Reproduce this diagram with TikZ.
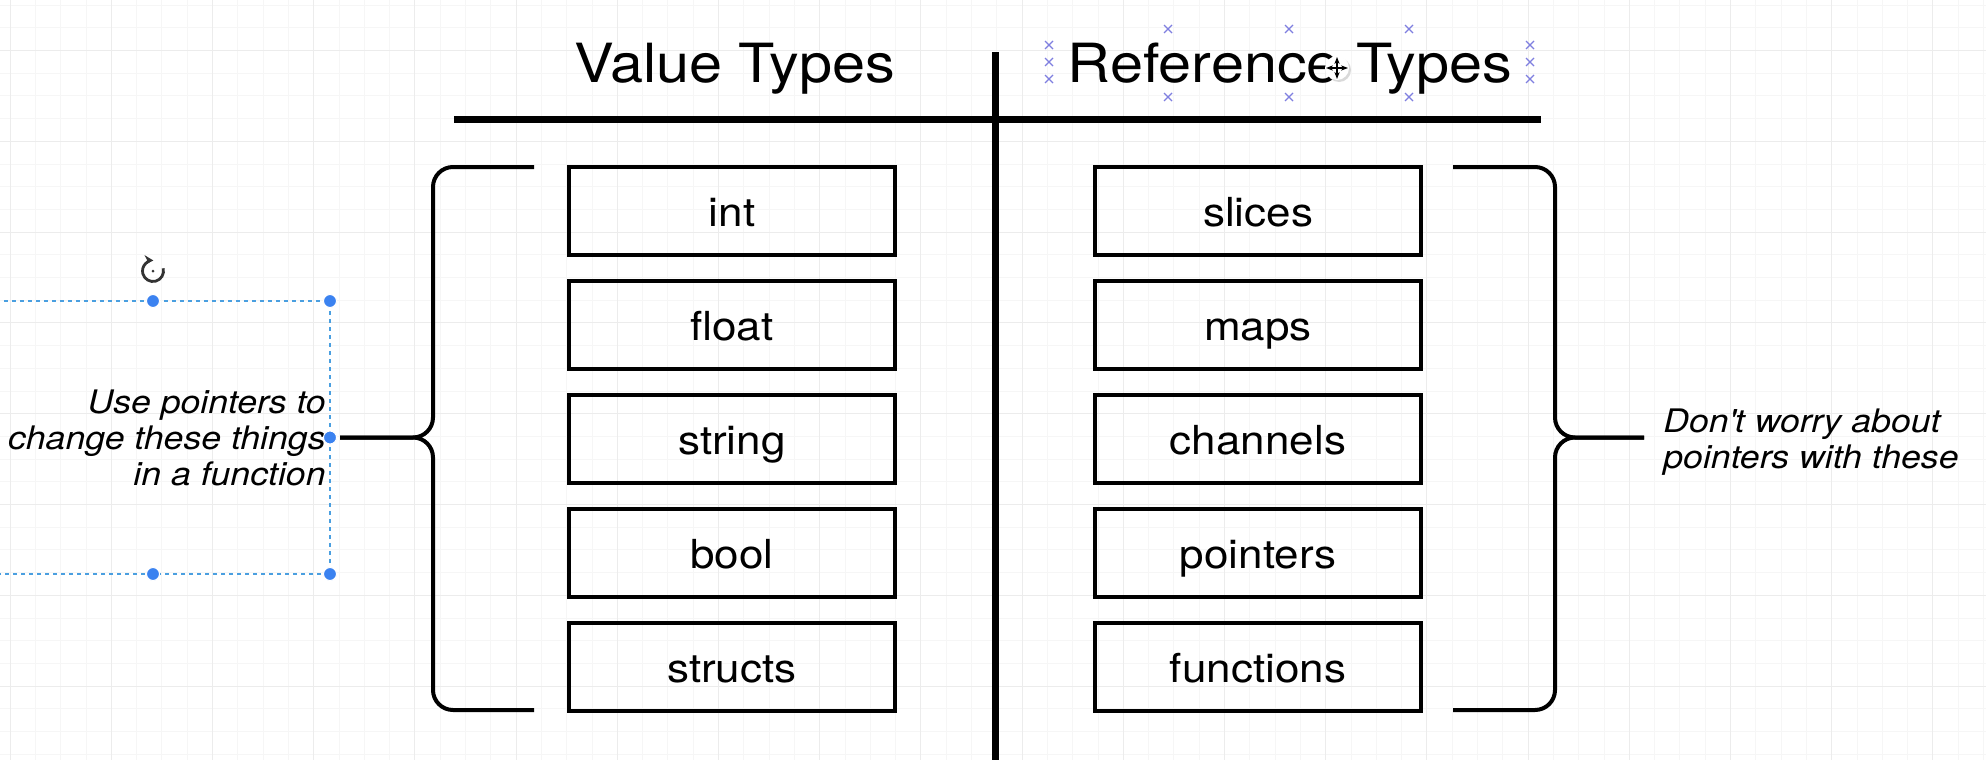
\documentclass[tikz,border=0pt]{standalone}
\usepackage{fontspec}
\setmainfont{TeX Gyre Heros}[FakeStretch=1.1]
\usetikzlibrary{arrows.meta,calc}

\definecolor{gridA}{HTML}{ECECEC}
\definecolor{gridB}{HTML}{F6F6F6}
\definecolor{selblue}{HTML}{4A9FE0}
\definecolor{handleblue}{HTML}{3B82F0}
\definecolor{xblue}{HTML}{7F7FE0}

\begin{document}
\begin{tikzpicture}[
      x=0.5pt,
      y=-0.5pt,
      gridmajor/.style={draw=gridA, line width=0.5pt},
      gridminor/.style={draw=gridB, line width=0.4pt},
      typebox/.style={draw, line width=2pt, minimum width=163pt, minimum height=44pt,
                      inner sep=0pt, text height=16pt, text depth=0pt,
                      font=\fontsize{20}{24}\selectfont},
      title/.style={anchor=base, inner sep=0pt, font=\fontsize{27}{32}\selectfont},
      note/.style={inner sep=0pt, font=\itshape\fontsize{16.2}{18}\selectfont},
      bar/.style={line width=3.5pt},
      brace/.style={line width=2pt, rounded corners=10pt},
      selbox/.style={draw=selblue, line width=0.6pt, dash pattern=on 2pt off 2pt},
      handle/.style={circle, fill=handleblue, draw=white, line width=0.5pt,
                     minimum size=6.5pt, inner sep=0pt},
      xmk/.style={draw=xblue, line width=0.6pt}]

    \fill[white] (0,0) rectangle (1986,760);
    \useasboundingbox (0,0) rectangle (1986,760);

    % canvas grid
    \foreach \i in {0,...,78}
      \draw[gridminor] ({10+25.3*\i},0) -- ({10+25.3*\i},760);
    \foreach \j in {0,...,33}
      \draw[gridminor] (0,{5+22.7*\j}) -- (1986,{5+22.7*\j});
    \foreach \i in {0,...,19}
      \draw[gridmajor] ({10+101.2*\i},0) -- ({10+101.2*\i},760);
    \foreach \j in {0,...,7}
      \draw[gridmajor] (0,{50.4+90.8*\j}) -- (1986,{50.4+90.8*\j});

    % headings
    \node[title] (valtitle) at (734.5, 82) {Value Types};
    \node[title] (reftitle) at (1290, 82) {Reference Types};

    \coordinate (hleft)  at (454, 119);
    \coordinate (hright) at (1541, 119);
    \coordinate (vtop)   at (995, 52);
    \coordinate (vbot)   at (995, 762);
    \draw[bar] (hleft) -- (hright);
    \draw[bar] (vtop) -- (vbot);

    % value types
    \node[typebox] (int)     at (732, 210.5) {int};
    \node[typebox] (float)   at (732, 324.5) {float};
    \node[typebox] (string)  at (732, 438.5) {string};
    \node[typebox] (bool)    at (732, 552.5) {bool};
    \node[typebox] (structs) at (732, 666.5) {structs};

    % reference types
    \node[typebox] (slices)    at (1258, 210.5) {slices};
    \node[typebox] (maps)      at (1258, 324.5) {maps};
    \node[typebox] (channels)  at (1258, 438.5) {channels};
    \node[typebox] (pointers)  at (1258, 552.5) {pointers};
    \node[typebox] (functions) at (1258, 666.5) {functions};

    % braces
    \coordinate (ltip) at (340, 437.5);
    \coordinate (rtip) at (1644, 437.5);
    \draw[brace] (534, 167) -- (433, 167) -- (433, 437.5) -- (ltip);
    \draw[brace] (534, 710) -- (433, 710) -- (433, 437.5) -- (ltip);
    \draw[brace] (1453, 167) -- (1555, 167) -- (1555, 437.5) -- (rtip);
    \draw[brace] (1453, 710) -- (1555, 710) -- (1555, 437.5) -- (rtip);

    \node[note, anchor=east, align=right] (lnote) at (326, 437.5)
      {Use pointers to\\change these things\\in a function};
    \node[note, anchor=west, align=left] (rnote) at (1663, 442)
      {Don\textquotesingle t worry about\\pointers with these};

    % selection of the left note
    \draw[selbox] (-4, 301) -- (330, 301) -- (330, 574) -- (-4, 574);
    \node[handle] (htop)   at (153, 301) {};
    \node[handle] (htr)    at (330, 301) {};
    \node[handle] (hmid)   at (330, 437.5) {};
    \node[handle] (hbot)   at (153, 574) {};
    \node[handle] (hbr)    at (330, 574) {};
    \coordinate (rot) at (153, 271);
    \draw[line width=1.4pt, draw=black!80, -{Stealth[length=4.5pt, width=5pt]}]
      (rot) ++(-15:10.5) arc[start angle=-15, end angle=272, radius=10.5];
    \fill[black!80] (rot) circle[radius=1.5];

    % selection of the right heading
    \foreach \x/\y in {1049/45, 1049/62, 1049/79, 1530/45, 1530/62, 1530/79,
                       1168/29, 1289/29, 1409/29, 1168/97, 1289/97, 1409/97}
      \draw[xmk] ({\x-4},{\y-4}) -- ({\x+4},{\y+4}) ({\x-4},{\y+4}) -- ({\x+4},{\y-4});

    \coordinate (mv) at (1337, 68);
    \fill[black!15] ($(mv)+(2,2)$) circle[radius=12];
    \fill[white] (mv) circle[radius=12];
    \draw[line width=1.1pt, {Stealth[length=3.5pt]}-{Stealth[length=3.5pt]}]
      ($(mv)+(-11,0)$) -- ($(mv)+(11,0)$);
    \draw[line width=1.1pt, {Stealth[length=3.5pt]}-{Stealth[length=3.5pt]}]
      ($(mv)+(0,-11)$) -- ($(mv)+(0,11)$);

  \end{tikzpicture}
\end{document}
